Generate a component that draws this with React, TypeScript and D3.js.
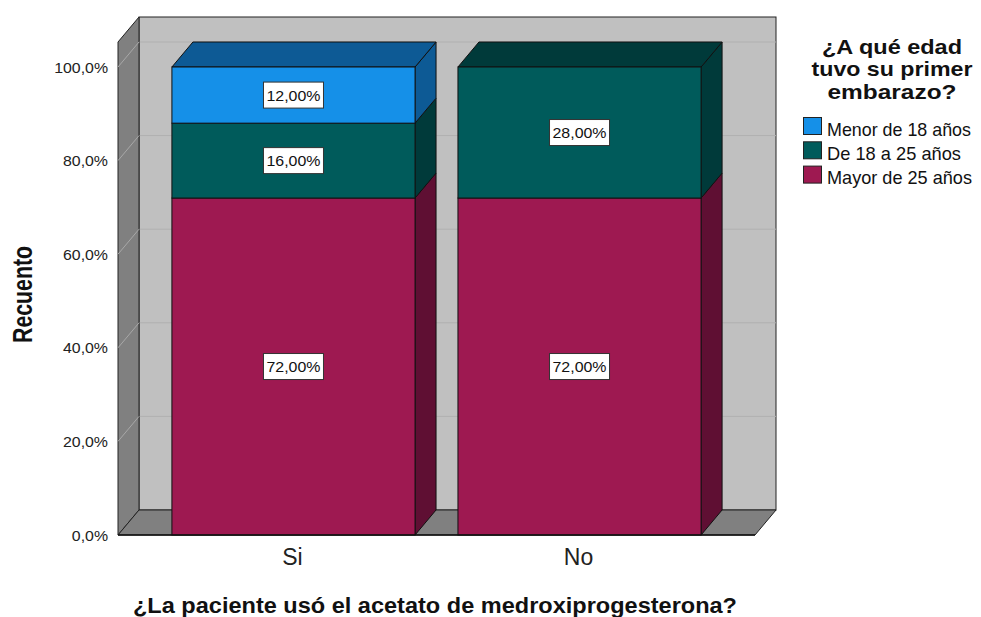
import React from "react";
import * as d3 from "d3";

const categories = ["Si", "No"];
const seriesNames = ["Mayor de 25 años", "De 18 a 25 años", "Menor de 18 años"];
const mayor25 = [72, 72];
const de18a25 = [16, 28];
const menor18 = [12, 0];
const yTicks = [0, 20, 40, 60, 80, 100];
const legendOrder = ["Menor de 18 años", "De 18 a 25 años", "Mayor de 25 años"];
const legendTitle = ["¿A qué edad", "tuvo su primer", "embarazo?"];

const faceColors: Record<string, string> = {
  "Menor de 18 años": "#1590E8",
  "De 18 a 25 años": "#005B5B",
  "Mayor de 25 años": "#9E1951",
};
const darkColors: Record<string, string> = {
  "Menor de 18 años": "#0D5A95",
  "De 18 a 25 años": "#003A3A",
  "Mayor de 25 años": "#5F0F33",
};

const FONT = "'Liberation Sans', Arial, sans-serif";

export default function App() {
  const W = 981, H = 617;
  const DX = 21, DY = -25;
  const x0 = 118, x1 = 755;
  const y = d3.scaleLinear().domain([0, 100]).range([535, 67]);
  const x = d3.scaleBand<string>().domain(categories).range([129, 744]).paddingInner(0.15).paddingOuter(0.15);

  const table = categories.map((c, i) => ({
    cat: c,
    "Mayor de 25 años": mayor25[i],
    "De 18 a 25 años": de18a25[i],
    "Menor de 18 años": menor18[i],
  }));
  const stacked = d3.stack<any>().keys(seriesNames)(table);

  const pts = (arr: [number, number][]) => arr.map((p) => p.join(",")).join(" ");
  const bw = x.bandwidth();
  const yBottom = y(0);
  const frontTop = y(100) + DY;
  const backTop = frontTop + DY;

  const elems: React.ReactNode[] = [];

  elems.push(
    <rect key="back" x={x0 + DX} y={backTop} width={x1 - x0} height={yBottom - frontTop} fill="#C0C0C0" stroke="#222" strokeWidth={1} />
  );
  yTicks.slice(1).forEach((t) => {
    elems.push(
      <line key={"gb" + t} x1={x0 + DX} x2={x1 + DX} y1={y(t) + DY} y2={y(t) + DY} stroke="#B0B0B0" strokeWidth={1} />
    );
  });
  elems.push(
    <polygon key="left" points={pts([[x0, frontTop], [x0 + DX, backTop], [x0 + DX, yBottom + DY], [x0, yBottom]])} fill="#808080" stroke="#222" strokeWidth={1} />
  );
  yTicks.slice(1).forEach((t) => {
    elems.push(
      <line key={"gl" + t} x1={x0} x2={x0 + DX} y1={y(t)} y2={y(t) + DY} stroke="#A8A8A8" strokeWidth={1} />
    );
  });
  elems.push(
    <polygon key="floor" points={pts([[x0, yBottom], [x0 + DX, yBottom + DY], [x1 + DX, yBottom + DY], [x1, yBottom]])} fill="#808080" stroke="#222" strokeWidth={1} />
  );

  categories.forEach((c, ci) => {
    const bx = x(c)!;
    let topVal = 0;
    stacked.forEach((s) => {
      const [a, b] = s[ci] as any;
      if (b - a > 0) topVal = Math.max(topVal, b);
    });
    stacked.forEach((s) => {
      const key = s.key;
      const [a, b] = s[ci] as any;
      if (b - a <= 0) return;
      const ya = y(a), yb = y(b);
      elems.push(
        <g key={c + key}>
          <polygon points={pts([[bx + bw, yb], [bx + bw + DX, yb + DY], [bx + bw + DX, ya + DY], [bx + bw, ya]])} fill={darkColors[key]} stroke="#111" strokeWidth={1} />
          {b === topVal && (
            <polygon points={pts([[bx, yb], [bx + DX, yb + DY], [bx + bw + DX, yb + DY], [bx + bw, yb]])} fill={darkColors[key]} stroke="#111" strokeWidth={1} />
          )}
          <rect x={bx} y={yb} width={bw} height={ya - yb} fill={faceColors[key]} stroke="#111" strokeWidth={1} />
        </g>
      );
    });
    stacked.forEach((s) => {
      const [a, b] = s[ci] as any;
      const v = b - a;
      if (v <= 0) return;
      const cx = bx + bw / 2;
      const cy = (y(a) + y(b)) / 2;
      const txt = v.toFixed(2).replace(".", ",") + "%";
      const tw = 60;
      elems.push(
        <g key={"lbl" + c + s.key}>
          <rect x={cx - tw / 2} y={cy - 13} width={tw} height={26} fill="#fff" stroke="#333" strokeWidth={1} />
          <text x={cx - 27} y={cy + 5.5} fontFamily={FONT} fontSize={15} fill="#111" textLength={54} lengthAdjust="spacingAndGlyphs">{txt}</text>
        </g>
      );
    });
  });

  elems.push(<line key="axisb" x1={x0} x2={x1} y1={yBottom} y2={yBottom} stroke="#111" strokeWidth={1.5} />);

  yTicks.forEach((t) => {
    elems.push(
      <g key={"yt" + t} transform={`translate(108,${y(t) + 5.5}) scale(1.06,1)`}>
        <text x={0} y={0} textAnchor="end" fontFamily={FONT} fontSize={15} fill="#222">
          {t.toFixed(1).replace(".", ",") + "%"}
        </text>
      </g>
    );
  });
  categories.forEach((c) => {
    elems.push(
      <text key={"xl" + c} x={x(c)! + bw / 2 - 1} y={565} textAnchor="middle" fontFamily={FONT} fontSize={23} fill="#222">{c}</text>
    );
  });

  const legendWidths = [144, 134, 145];
  const titleWidths = [140, 161, 129];

  return (
    <svg width={W} height={H} style={{ position: "absolute", left: 0, top: 0, background: "#fff" }}>
      {elems}
      <text x={133} y={613} fontFamily={FONT} fontSize={21.5} fontWeight="bold" fill="#111" textLength={604} lengthAdjust="spacingAndGlyphs">
        ¿La paciente usó el acetato de medroxiprogesterona?
      </text>
      <g transform="translate(32,246) rotate(-90) scale(1,1.3)">
        <text x={-97} y={0} fontFamily={FONT} fontSize={21} fontWeight="bold" fill="#111" textLength={97} lengthAdjust="spacingAndGlyphs">
          Recuento
        </text>
      </g>
      {legendTitle.map((l, i) => (
        <text key={"lt" + i} x={892 - titleWidths[i] / 2} y={53.5 + i * 22.5} fontFamily={FONT} fontWeight="bold" fontSize={20.5} fill="#111" textLength={titleWidths[i]} lengthAdjust="spacingAndGlyphs">
          {l}
        </text>
      ))}
      {legendOrder.map((k, i) => (
        <g key={"lg" + k}>
          <rect x={803.5} y={117.5 + i * 24.3} width={18} height={17} fill={faceColors[k]} stroke="#222" strokeWidth={1} />
          <text x={827} y={135.5 + i * 24.3} fontFamily={FONT} fontSize={19} fill="#111" textLength={legendWidths[i]} lengthAdjust="spacingAndGlyphs">{k}</text>
        </g>
      ))}
    </svg>
  );
}
